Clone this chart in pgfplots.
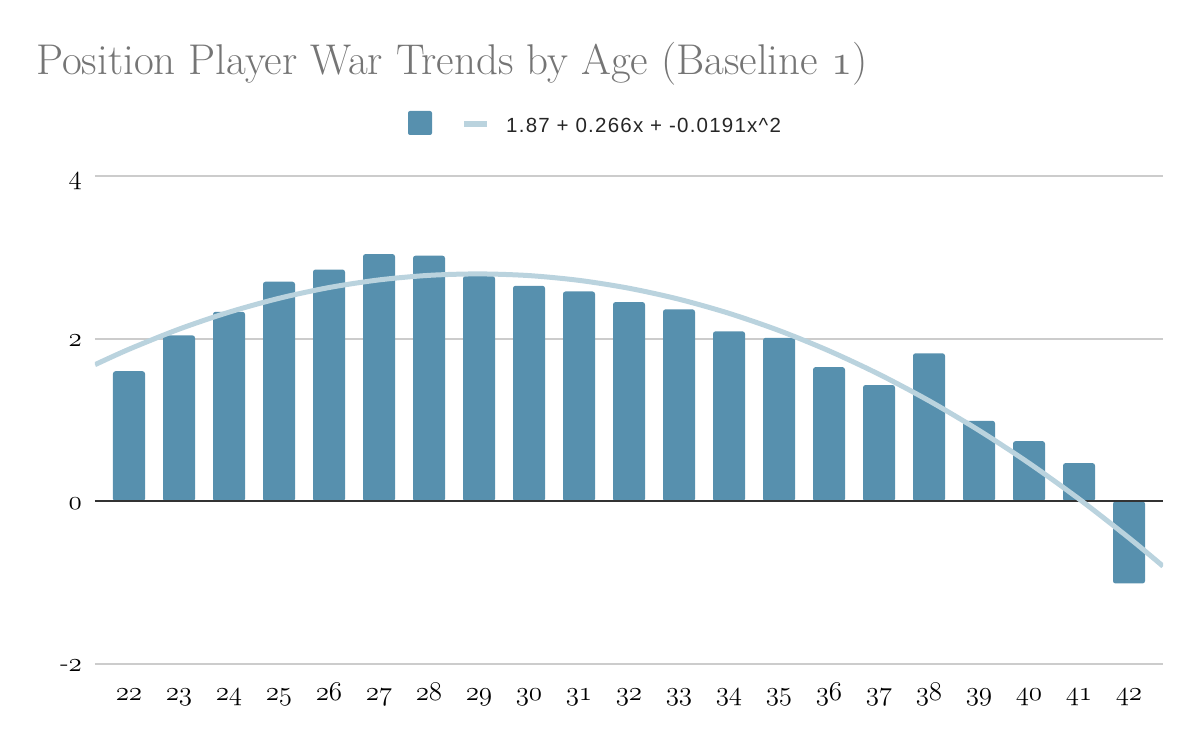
\RequirePackage{fix-cm}
\documentclass[border=0pt]{standalone}
\usepackage{fontspec}
\usepackage{pgfplots}
\pgfplotsset{compat=1.18}
\newfontfamily\arial[LetterSpace=6]{Liberation Sans}
\newcommand\osn[1]{\mbox{\usefont{OML}{cmm}{m}{it}#1}}
\definecolor{barc}{HTML}{5790AE}
\definecolor{trendc}{HTML}{BAD3DE}
\definecolor{gridc}{HTML}{CCCCCC}
\definecolor{titlec}{HTML}{757575}
\definecolor{zeroc}{HTML}{333333}
\begin{document}
\begin{tikzpicture}
\path[use as bounding box] (0pt,0pt) rectangle (1200pt,742pt);
\node[anchor=base west, text=titlec, font=\fontsize{43}{50}\selectfont, inner sep=0pt] at (36pt,667pt) {Position Player War Trends by Age (Baseline \osn{1})};
\fill[barc, rounded corners=2pt] (408pt,607pt) rectangle (432pt,631pt);
\draw[trendc, line width=6pt] (464pt,617.5pt) -- (487pt,617.5pt);
\node[anchor=base west, text=black!85, font=\arial\fontsize{20.5}{24}\selectfont, inner sep=0pt] at (506pt,609pt) {1.87 + 0.266x + -0.0191x\^{}2};
\begin{axis}[
  at={(95pt,78pt)}, anchor=south west,
  scale only axis, width=1068pt, height=488pt,
  xmin=-0.68, xmax=20.68, ymin=-2, ymax=4,
  axis line style={draw=none},
  major tick length=0pt,
  ymajorgrids, grid style={gridc, line width=2pt},
  ytick={-2,0,2,4},
  yticklabels={-\osn{2},\osn{0},\osn{2},\osn{4}},
  xtick={0,...,20},
  xticklabels={\osn{22},\osn{23},\osn{24},\osn{25},\osn{26},\osn{27},\osn{28},\osn{29},\osn{30},\osn{31},\osn{32},\osn{33},\osn{34},\osn{35},\osn{36},\osn{37},\osn{38},\osn{39},\osn{40},\osn{41},\osn{42}},
  tick label style={font=\fontsize{27}{30}\selectfont, inner sep=0pt},
  yticklabel style={anchor=base east, xshift=-13pt, yshift=-8pt},
  xticklabel style={anchor=base, yshift=-36pt},
]
\addplot[ybar, bar width=32pt, fill=barc, draw=none, rounded corners=2.5pt] coordinates {
 (0,1.60) (1,2.04) (2,2.33) (3,2.70) (4,2.85) (5,3.04) (6,3.02) (7,2.77)
 (8,2.65) (9,2.58) (10,2.45) (11,2.36) (12,2.09) (13,2.01) (14,1.65)
 (15,1.43) (16,1.82) (17,0.99) (18,0.74) (19,0.47) (20,-1.01)
};
\addplot[zeroc, line width=2pt] coordinates {(-0.68,0) (20.68,0)};
\addplot[trendc, line width=5pt, smooth] coordinates {
 (-0.68,1.6803) (0,1.87) (1,2.1169) (2,2.3256) (3,2.4961) (4,2.6284)
 (5,2.7225) (6,2.7784) (7,2.7961) (8,2.7756) (9,2.7169) (10,2.62)
 (11,2.4849) (12,2.3116) (13,2.1001) (14,1.8504) (15,1.5625) (16,1.2364)
 (17,0.8721) (18,0.4696) (19,0.0289) (20,-0.45) (20.68,-0.7975)
};
\end{axis}
\end{tikzpicture}
\end{document}
